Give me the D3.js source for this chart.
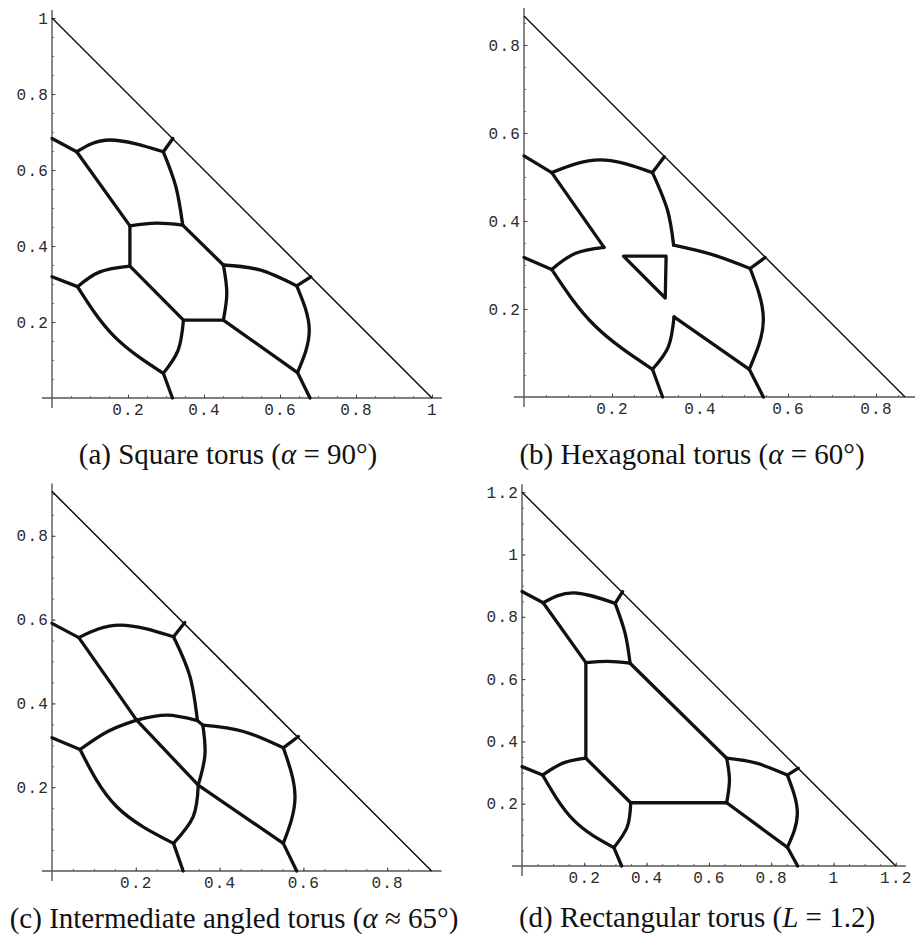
<!DOCTYPE html>
<html>
<head>
<meta charset="utf-8">
<script src="https://cdn.jsdelivr.net/npm/d3@7"></script>
<style>
  body { margin: 0; background: #fff; }
  svg { display: block; }
  .tick text { font-family: "Liberation Mono", "DejaVu Sans Mono", monospace; font-size: 16px; letter-spacing: 1.2px; fill: #2a2a2a; }
  .caption { font-family: "Liberation Serif", "DejaVu Serif", serif; font-size: 29px; fill: #111; }
</style>
</head>
<body>
<svg width="915" height="944"></svg>
<script>
// leg length of each fundamental triangle
const legA = 1, legB = 0.866, legC = 0.906, legD = 1.2;

// labelled ticks
const ticksA = [0.2, 0.4, 0.6, 0.8, 1];
const ticksB = [0.2, 0.4, 0.6, 0.8];
const ticksC = [0.2, 0.4, 0.6, 0.8];
const ticksD = [0.2, 0.4, 0.6, 0.8, 1, 1.2];

// network edges, each one a list of points
const edgesA = [
  [[0, 0.683], [0.065, 0.648]],
  [[0.065, 0.648], [0.153, 0.679], [0.293, 0.648]],
  [[0.293, 0.648], [0.318, 0.683]],
  [[0.293, 0.648], [0.326, 0.556], [0.344, 0.455]],
  [[0.065, 0.648], [0.205, 0.453]],
  [[0.205, 0.453], [0.275, 0.460], [0.344, 0.455]],
  [[0.205, 0.453], [0.205, 0.347]],
  [[0.344, 0.455], [0.451, 0.350]],
  [[0.205, 0.347], [0.126, 0.332], [0.067, 0.293]],
  [[0.067, 0.293], [0, 0.319]],
  [[0.205, 0.347], [0.346, 0.205]],
  [[0.451, 0.350], [0.460, 0.276], [0.451, 0.205]],
  [[0.346, 0.205], [0.451, 0.205]],
  [[0.451, 0.350], [0.547, 0.337], [0.644, 0.295]],
  [[0.644, 0.295], [0.681, 0.319]],
  [[0.644, 0.295], [0.677, 0.179], [0.646, 0.067]],
  [[0.451, 0.205], [0.646, 0.067]],
  [[0.646, 0.067], [0.679, 0]],
  [[0.067, 0.293], [0.163, 0.163], [0.293, 0.065]],
  [[0.293, 0.065], [0.332, 0.126], [0.346, 0.205]],
  [[0.293, 0.065], [0.317, 0]]
];

const edgesB = [
  [[0, 0.548], [0.063, 0.510]],
  [[0.063, 0.510], [0.173, 0.539], [0.292, 0.510]],
  [[0.292, 0.510], [0.319, 0.546]],
  [[0.063, 0.510], [0.182, 0.340]],
  [[0.182, 0.340], [0.116, 0.326], [0.063, 0.290]],
  [[0.063, 0.290], [0, 0.317]],
  [[0.292, 0.510], [0.326, 0.425], [0.340, 0.345]],
  [[0.340, 0.345], [0.430, 0.323], [0.514, 0.292]],
  [[0.514, 0.292], [0.548, 0.317]],
  [[0.514, 0.292], [0.544, 0.175], [0.512, 0.063]],
  [[0.341, 0.182], [0.512, 0.063]],
  [[0.341, 0.182], [0.328, 0.114], [0.292, 0.063]],
  [[0.063, 0.290], [0.160, 0.163], [0.292, 0.063]],
  [[0.512, 0.063], [0.544, 0]],
  [[0.292, 0.063], [0.315, 0]]
];
// the small closed loop in the middle of (b)
const loopB = [[0.226, 0.320], [0.323, 0.320], [0.321, 0.225]];

const edgesC = [
  [[0, 0.591], [0.064, 0.557]],
  [[0.064, 0.557], [0.162, 0.587], [0.290, 0.559]],
  [[0.290, 0.559], [0.317, 0.593]],
  [[0.290, 0.559], [0.329, 0.465], [0.347, 0.359]],
  [[0.064, 0.557], [0.202, 0.360]],
  [[0.202, 0.360], [0.274, 0.372], [0.347, 0.359]],
  [[0.347, 0.359], [0.360, 0.348]],
  [[0.360, 0.348], [0.457, 0.333], [0.552, 0.294]],
  [[0.552, 0.294], [0.588, 0.321]],
  [[0.552, 0.294], [0.580, 0.177], [0.552, 0.066]],
  [[0.552, 0.066], [0.584, 0]],
  [[0.360, 0.348], [0.365, 0.277], [0.349, 0.205]],
  [[0.202, 0.360], [0.349, 0.205]],
  [[0.349, 0.205], [0.552, 0.066]],
  [[0.349, 0.205], [0.337, 0.130], [0.290, 0.066]],
  [[0.202, 0.360], [0.133, 0.333], [0.067, 0.290]],
  [[0, 0.318], [0.067, 0.290]],
  [[0.067, 0.290], [0.154, 0.154], [0.290, 0.066]],
  [[0.290, 0.066], [0.313, 0]]
];

const edgesD = [
  [[0, 0.881], [0.068, 0.845]],
  [[0.068, 0.845], [0.165, 0.877], [0.299, 0.843]],
  [[0.299, 0.843], [0.323, 0.881]],
  [[0.299, 0.843], [0.331, 0.747], [0.347, 0.651]],
  [[0.068, 0.845], [0.205, 0.653]],
  [[0.205, 0.653], [0.277, 0.657], [0.347, 0.651]],
  [[0.205, 0.653], [0.205, 0.346]],
  [[0.347, 0.651], [0.657, 0.346]],
  [[0.205, 0.346], [0.133, 0.331], [0.066, 0.292]],
  [[0.066, 0.292], [0, 0.319]],
  [[0.205, 0.346], [0.349, 0.203]],
  [[0.349, 0.203], [0.657, 0.203]],
  [[0.657, 0.346], [0.666, 0.276], [0.657, 0.203]],
  [[0.657, 0.346], [0.753, 0.330], [0.852, 0.292]],
  [[0.852, 0.292], [0.887, 0.314]],
  [[0.852, 0.292], [0.884, 0.169], [0.852, 0.060]],
  [[0.657, 0.203], [0.852, 0.060]],
  [[0.852, 0.060], [0.885, 0]],
  [[0.066, 0.292], [0.165, 0.148], [0.295, 0.059]],
  [[0.295, 0.059], [0.338, 0.126], [0.349, 0.203]],
  [[0.295, 0.059], [0.320, 0]]
];

// captions: plain, italic, plain
const captionA = ["(a) Square torus (", "α", " = 90°)"];
const captionB = ["(b) Hexagonal torus (", "α", " = 60°)"];
const captionC = ["(c) Intermediate angled torus (", "α", " ≈ 65°)"];
const captionD = ["(d) Rectangular torus (", "L", " = 1.2)"];

// where each panel sits on the page (origin in px, px per unit, caption position)
const panels = [
  {leg: legA, ticks: ticksA, edges: edgesA, loops: [], caption: captionA, left: 52, bottom: 398, unit: 380, cx: 228, cy: 464},
  {leg: legB, ticks: ticksB, edges: edgesB, loops: [loopB], caption: captionB, left: 524, bottom: 397, unit: 440, cx: 692, cy: 464},
  {leg: legC, ticks: ticksC, edges: edgesC, loops: [], caption: captionC, left: 52, bottom: 871, unit: 419, cx: 234, cy: 928},
  {leg: legD, ticks: ticksD, edges: edgesD, loops: [], caption: captionD, left: 522, bottom: 866, unit: 311.5, cx: 697, cy: 927}
];

const svg = d3.select("svg");
const fmt = d => String(Math.round(d * 100) / 100);

panels.forEach(p => {
  const x = d3.scaleLinear().domain([0, p.leg]).range([p.left, p.left + p.leg * p.unit]);
  const y = d3.scaleLinear().domain([0, p.leg]).range([p.bottom, p.bottom - p.leg * p.unit]);
  const g = svg.append("g");

  const minor = d3.range(0.05, p.leg + 0.001, 0.05);

  // axes, Mathematica style: ticks pointing inwards, lines crossing at origin
  g.append("line")
    .attr("x1", x(0) - 10).attr("x2", x(p.leg) + 10)
    .attr("y1", y(0)).attr("y2", y(0))
    .attr("stroke", "#555").attr("stroke-width", 1.4);
  g.append("line")
    .attr("x1", x(0)).attr("x2", x(0))
    .attr("y1", y(0) + 10).attr("y2", y(p.leg) - 8)
    .attr("stroke", "#555").attr("stroke-width", 1.4);

  g.append("g").attr("transform", `translate(0,${y(0)})`)
    .call(d3.axisBottom(x).tickValues(minor).tickSize(-2).tickFormat(""))
    .call(a => a.select(".domain").remove())
    .call(a => a.selectAll("line").attr("stroke", "#666"));
  g.append("g").attr("transform", `translate(${x(0)},0)`)
    .call(d3.axisLeft(y).tickValues(minor).tickSize(-2).tickFormat(""))
    .call(a => a.select(".domain").remove())
    .call(a => a.selectAll("line").attr("stroke", "#666"));

  g.append("g").attr("transform", `translate(0,${y(0)})`)
    .call(d3.axisBottom(x).tickValues(p.ticks).tickSize(-3.5).tickPadding(6).tickFormat(fmt))
    .call(a => a.select(".domain").remove())
    .call(a => a.selectAll("line").attr("stroke", "#444"))
    .call(a => a.attr("font-family", null).attr("font-size", null));
  g.append("g").attr("transform", `translate(${x(0)},0)`)
    .call(d3.axisLeft(y).tickValues(p.ticks).tickSize(-3.5).tickPadding(3).tickFormat(fmt))
    .call(a => a.select(".domain").remove())
    .call(a => a.selectAll("line").attr("stroke", "#444"))
    .call(a => a.attr("font-family", null).attr("font-size", null));

  // hypotenuse of the triangle
  g.append("line")
    .attr("x1", x(0)).attr("y1", y(p.leg))
    .attr("x2", x(p.leg)).attr("y2", y(0))
    .attr("stroke", "#111").attr("stroke-width", 1.5);

  // the network
  const line = d3.line().x(d => x(d[0])).y(d => y(d[1])).curve(d3.curveNatural);
  g.append("g").selectAll("path")
    .data(p.edges)
    .enter()
    .append("path")
    .attr("d", line)
    .attr("fill", "none")
    .attr("stroke", "#111")
    .attr("stroke-width", 3.3)
    .attr("stroke-linecap", "round");

  const loopLine = d3.line().x(d => x(d[0])).y(d => y(d[1])).curve(d3.curveLinearClosed);
  g.append("g").selectAll("path")
    .data(p.loops)
    .enter()
    .append("path")
    .attr("d", loopLine)
    .attr("fill", "none")
    .attr("stroke", "#111")
    .attr("stroke-width", 3.3)
    .attr("stroke-linejoin", "round");

  // caption
  const t = g.append("text").attr("class", "caption")
    .attr("x", p.cx).attr("y", p.cy)
    .attr("text-anchor", "middle");
  t.append("tspan").text(p.caption[0]);
  t.append("tspan").attr("font-style", "italic").text(p.caption[1]);
  t.append("tspan").text(p.caption[2]);
});
</script>
</body>
</html>
